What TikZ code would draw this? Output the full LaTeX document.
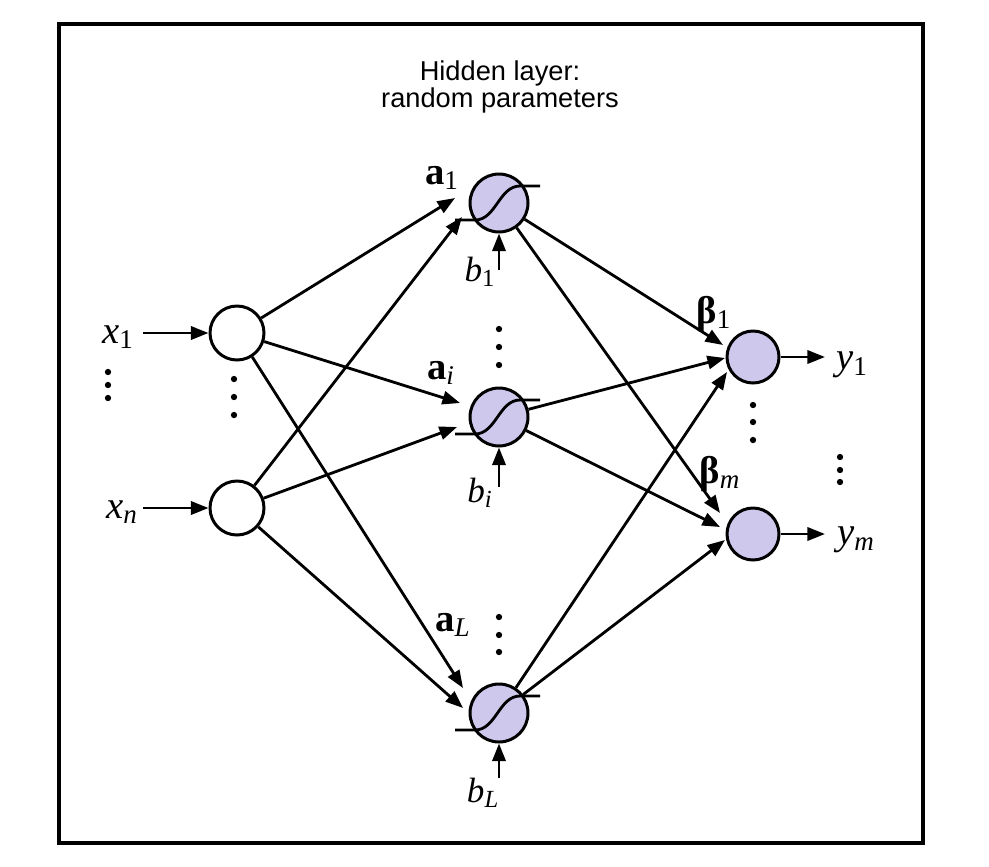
\documentclass[tikz,border=0pt]{standalone}
\usepackage{fontspec}
\setmainfont{Liberation Serif}
\newfontfamily\titlefont{Liberation Sans}
\usetikzlibrary{arrows.meta}

\definecolor{neuronfill}{RGB}{206,200,236}

\begin{document}
\begin{tikzpicture}[x=0.02cm, y=-0.02cm,
    every node/.style={font=\fontsize{22}{24}\selectfont},
    neuron/.style={circle, draw, line width=1.7pt, inner sep=0pt},
    innode/.style={neuron, minimum size=1.08cm, fill=white},
    hidnode/.style={neuron, minimum size=1.16cm, fill=neuronfill},
    outnode/.style={neuron, minimum size=1.04cm, fill=neuronfill},
    link/.style={line width=1.6pt, -{Triangle[length=10pt,width=7.5pt]}},
    biaslbl/.style={font=\fontsize{20}{22}\selectfont}]

    \fill[white] (0,0) rectangle (989,866);
    \useasboundingbox (0,0) rectangle (989,866);
    \draw[line width=2pt] (59,24) rectangle (923,843);

    \node[font=\titlefont\fontsize{15.5}{15}\selectfont, align=center] (title) at (500,87)
        {Hidden layer:\\random parameters};

    % neurons
    \node[innode] (i1) at (237,333) {};
    \node[innode] (in) at (237,508) {};
    \node[hidnode] (h1) at (499,203) {};
    \node[hidnode] (hi) at (499,417) {};
    \node[hidnode] (hL) at (499,713) {};
    \node[outnode] (o1) at (753,357) {};
    \node[outnode] (om) at (753,534) {};

    % arrow ends
    \coordinate (h1a) at (455,198);
    \coordinate (h1b) at (462,217);
    \coordinate (hia) at (460,403);
    \coordinate (hib) at (457,427);
    \coordinate (hLa) at (463,688);
    \coordinate (hLb) at (463,708);
    \coordinate (o1a) at (723,345);
    \coordinate (o1b) at (725,358);
    \coordinate (o1c) at (727,372);
    \coordinate (oma) at (720,513);
    \coordinate (omb) at (720,527);
    \coordinate (omc) at (725,540);
    \coordinate (x1s) at (143,333);
    \coordinate (xns) at (143,508);
    \coordinate (y1e) at (825,357);
    \coordinate (yme) at (825,534);
    \coordinate (b1s) at (499,270);
    \coordinate (bis) at (499,487);
    \coordinate (bLs) at (499,778);

    \draw[link] (x1s) -- (i1);
    \draw[link] (xns) -- (in);
    \foreach \h in {h1,hi,hL} {
        \draw[link] (i1) -- (\h a);
        \draw[link] (in) -- (\h b);
    }
    \foreach \o in {o1,om} {
        \draw[link] (h1) -- (\o a);
        \draw[link] (hi) -- (\o b);
        \draw[link] (hL) -- (\o c);
    }
    \draw[link] (o1) -- (y1e);
    \draw[link] (om) -- (yme);
    \draw[link] (b1s) -- (h1);
    \draw[link] (bis) -- (hi);
    \draw[link] (bLs) -- (hL);

    % sigmoid marks
    \foreach \h in {h1,hi,hL}
        \draw[line width=1.6pt] ([shift={(-44,17)}]\h.center) -- ++(20,0)
            .. controls +(21,0) and +(-21,0) .. ++(45,-34) -- ++(20,0);

    % dots
    \foreach \x/\y in {108/372, 108/385, 108/398, 234/379, 234/397, 234/415,
                       499/329, 499/347, 499/365, 499/617, 499/635, 499/652,
                       753/405, 753/422, 753/440, 840/457, 840/470, 840/482}
        \fill (\x,\y) circle (1.8pt);

    % labels
    \node (lx1) at (118,337) {\textit{x}\textsubscript{1}};
    \node (lxn) at (122,512) {\textit{x}\textsubscript{\textit{n}}};
    \node (la1) at (442,178) {\textbf{a}\textsubscript{1}};
    \node (lai) at (441,373) {\textbf{a}\textsubscript{\textit{i}}};
    \node (laL) at (453,625) {\textbf{a}\textsubscript{\textit{L}}};
    \node[biaslbl] (lb1) at (480,272) {\textit{b}\textsubscript{1}};
    \node[biaslbl] (lbi) at (480,493) {\textit{b}\textsubscript{\textit{i}}};
    \node[biaslbl] (lbL) at (483,793) {\textit{b}\textsubscript{\textit{L}}};
    \node (lbeta1) at (714,314) {\textbf{β}\textsubscript{1}};
    \node (lbetam) at (720,474) {\textbf{β}\textsubscript{\textit{m}}};
    \node (ly1) at (852,365) {\textit{y}\textsubscript{1}};
    \node (lym) at (856,540) {\textit{y}\textsubscript{\textit{m}}};
\end{tikzpicture}
\end{document}
